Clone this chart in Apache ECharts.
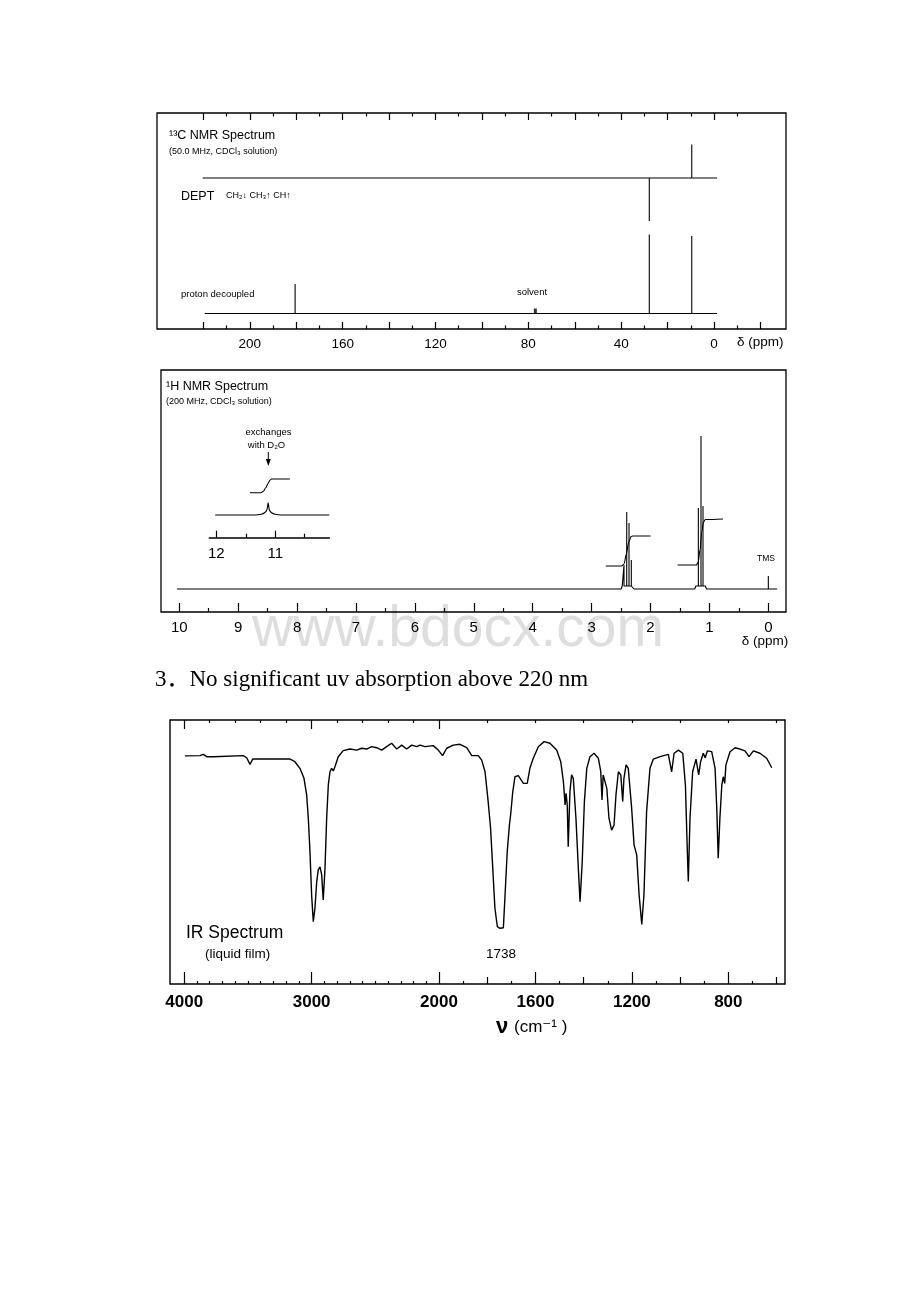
<!DOCTYPE html>
<html><head><meta charset="utf-8">
<script src="https://cdn.jsdelivr.net/npm/echarts@6/dist/echarts.min.js"></script>
<style>html,body{margin:0;padding:0;background:#fff}#c{width:920px;height:1302px}</style>
</head><body><div id="c"></div>
<script>
// ================= DATA =================
// ---- 13C NMR (delta, ppm) ----
const c13Shifts    = [180.5, 27.9, 9.6];
const c13Decoupled = [29.5, 79, 77.5];     // proton-decoupled peak heights
const c13Dept      = [0, -43, 33.5];       // DEPT: CH2 down, CH3 / CH up, C absent
const c13Solvent   = 77.0;
const c13TickMajor = [220,200,180,160,140,120,100,80,60,40,20,0,-20];
const c13TickMinor = [210,190,170,150,130,110,90,70,50,30,10,-10];
const c13TopMajor  = [220,200,180,160,140,120,100,80,60,40,20,0];
const c13TopMinor  = [210,190,170,150,130,110,90,70,50,30,10,-10];
const c13Labels    = [200,160,120,80,40,0];

// ---- 1H NMR ----
const h1Shifts  = [2.45, 2.404, 2.365, 2.326, 1.188, 1.143, 1.109, 0.0];
const h1Heights = [24, 77, 66, 29, 81, 153, 83, 13];
const h1Bumps   = [[2.50, 2.28], [1.25, 1.05]];
const h1IntQuartet = [[2.76,46],[2.49,46],[2.45,48],[2.41,58],[2.37,70],[2.33,75.5],[2.30,76],[2.0,76]];
const h1IntTriplet = [[1.54,47],[1.22,47],[1.19,50],[1.16,62],[1.13,80],[1.10,90],[1.07,92.5],[0.77,93]];
const h1TickMajor = [10,9,8,7,6,5,4,3,2,1,0];
const h1TickMinor = [9.5,8.5,7.5,6.5,5.5,4.5,3.5,2.5,1.5,0.5];
const h1Labels    = [10,9,8,7,6,5,4,3,2,1,0];
// inset (COOH, exchanges with D2O)
const insetPeak = [[12.02,22.7],[11.34,22.7],[11.24,23.5],[11.18,25],[11.14,28],[11.12,35],[11.10,28],[11.06,25],[11.0,23.5],[10.9,22.7],[10.08,22.7]];
const insetIntegral = [[11.43,45],[11.24,45],[11.20,46.5],[11.16,50],[11.12,54.5],[11.09,57.5],[11.06,58.7],[10.75,58.7]];
const insetTickMajor = [12, 11];
const insetTickMinor = [11.5, 10.5];
const insetLabels = [12, 11];

// ---- IR (wavenumber cm-1, % transmittance) ----
const irW = [3995,3877,3851,3824,3772,3537,3510,3484,3463,3353,3170,3131,3092,3060,3039,3026,3013,3000,2987,2974,
  2960,2948,2934,2921,2909,2895,2882,2869,2856,2843,2830,2817,2791,2752,2699,2646,2607,2568,2529,2489,
  2450,2411,2372,2332,2293,2254,2214,2175,2149,
  2110,2045,2006,1985,1968,1941,1913,1885,1864,1837,1823,1809,1796,1786,1777,1768,1758,1747,1733,1726,
  1717,1708,1703,1694,1685,1671,1650,1634,1623,1609,1588,1564,1540,1512,1495,1484,1477,1473,1468,1464,
  1457,1450,1443,1432,1422,1415,1406,1397,1387,1374,1357,1339,1329,1324,1319,1311,1304,1295,1284,1274,
  1266,1256,1246,1238,1233,1224,1215,1201,1191,1180,1170,1159,1150,1139,1125,1111,1083,1049,1035,1025,
  1007,989,978,970,966,959,948,934,923,915,904,896,887,869,855,848,842,835,827,821,
  815,810,793,772,752,731,714,696,669,641,620];
const irT = [86.4,86.5,87.0,86.1,86.1,86.5,85.7,83.2,85.2,85.2,85.2,84.2,81.7,77.9,71.6,62.8,50.1,33.7,23.6,28.7,
  38.8,43.2,44.4,41.3,31.8,43.8,62.8,75.4,80.4,81.7,80.7,82.3,86.1,88.4,89.0,88.6,89.3,89.0,89.9,89.5,
  88.6,89.9,91.2,89.0,90.5,89.0,90.5,89.9,90.5,
  89.9,90.3,88.6,86.5,89.3,90.5,90.8,89.5,86.5,86.5,84.8,80.4,69.1,59.0,43.8,28.7,21.7,21.1,21.3,33.7,
  50.1,60.2,64.0,72.8,78.5,78.9,76.0,76.0,81.7,85.5,89.9,91.8,91.2,88.6,84.2,76.6,67.8,72.2,67.8,52.0,
  72.8,79.2,77.9,62.8,43.8,31.2,46.3,69.1,81.7,86.1,87.4,85.5,80.4,69.7,79.2,79.8,74.1,62.8,58.3,60.2,
  71.6,80.4,79.2,69.1,77.9,83.0,81.7,66.6,52.7,48.9,33.7,22.6,33.7,65.3,81.7,85.2,86.1,87.0,80.4,87.4,
  88.6,87.4,75.4,50.1,38.8,62.8,80.4,85.2,79.2,84.2,87.4,85.7,88.3,88.0,81.7,66.6,47.6,62.8,75.4,78.5,
  76.0,83.0,88.0,89.5,89.0,88.3,86.1,88.3,87.4,85.5,81.9];
const irTickMajor = [4000,3000,2000,1600,1200,800];
const irTickMid   = [1800,1400,1000,600];
const irTickMinor = [3900,3800,3700,3600,3500,3400,3300,3200,3100,2900,2800,2700,2600,2500,2400,2300,2200,2100,
  1900,1700,1500,1300,1100,900,700];
const irTopMajor = [4000,3000,2000];
const irTopMinor = [3800,3600,3400,3200,2800,2600,2400,2200,1800,1600,1400,1200,1000,800,600];
const irLabels = [4000,3000,2000,1600,1200,800];
const irRange = [4112, 565];

// ================= LAYOUT / HELPERS =================
const SANS = "'Liberation Sans', Arial, 'DejaVu Sans', sans-serif";
// chart paper has a scale change at 2000 cm-1
const irX = w => w >= 2000 ? (4000 - w) * 0.12735 : 2000 * 0.12735 + (2000 - w) * 0.2411;

const C13_DEPT_BASE = 151, C13_DEC_BASE = 15.5, H1_BASE = 23;

function stickTrace(base, xs, hs, start, end, bumps, bumpH) {
  bumps = bumps || []; bumpH = bumpH || 0;
  const pk = xs.map((x, i) => [x, hs[i]]).filter(p => p[1] !== 0).sort((a, b) => b[0] - a[0]);
  const pts = [[start, base]];
  let open = null;
  const close = () => { if (open) { pts.push([open[1] + 0.02, base + bumpH], [open[1], base]); open = null; } };
  pk.forEach(([x, h]) => {
    const b = bumps.find(r => x <= r[0] && x >= r[1]) || null;
    if (b !== open) { close(); if (b) { pts.push([b[0], base], [b[0] - 0.02, base + bumpH]); open = b; } }
    const y0 = b ? base + bumpH : base;
    pts.push([x, y0], [x, base + h], [x, y0]);
  });
  close();
  pts.push([end, base]);
  return pts;
}

function tAxis(gridIndex, position, min, max, inverse, ticks, len, labels, labelOpt, lineOpt) {
  return {
    type: 'value', gridIndex, position, min, max, inverse,
    axisLine: lineOpt || { show: false },
    splitLine: { show: false },
    axisTick: { show: true, inside: true, length: len, customValues: ticks, lineStyle: { color: '#000', width: 1.2 } },
    axisLabel: labels ? Object.assign({ show: true, customValues: labels, color: '#000', fontFamily: SANS, fontSize: 14 }, labelOpt || {}) : { show: false }
  };
}

const lineS = (data, xi, yi, extra) => Object.assign({
  type: 'line', data, xAxisIndex: xi, yAxisIndex: yi, symbol: 'none', silent: true, animation: false,
  lineStyle: { color: '#000', width: 1.1 }
}, extra || {});

function txt(text, x, y, size, opts) {
  return { type: 'text', x, y, z: 100, silent: true,
    style: Object.assign({ text, fontSize: size, fontFamily: SANS, fill: '#000', textAlign: 'left', textVerticalAlign: 'middle', verticalAlign: 'middle' }, opts || {}) };
}

const irLabelFmt = v => { const w = irLabels.find(w => Math.abs(irX(w) - v) < 0.01); return w === undefined ? '' : String(w); };

// ================= OPTION =================
const option = {
  backgroundColor: '#fff',
  animation: false,
  grid: [
    { left: 157, top: 113, width: 629, height: 216, show: true, borderColor: '#000', borderWidth: 1.3, backgroundColor: 'transparent' },
    { left: 161, top: 370, width: 625, height: 242, show: true, borderColor: '#000', borderWidth: 1.3, backgroundColor: 'transparent' },
    { left: 209.3, top: 470, width: 120, height: 67.7, show: false },
    { left: 170, top: 720, width: 615, height: 264, show: true, borderColor: '#000', borderWidth: 1.4, backgroundColor: 'transparent' }
  ],
  xAxis: [
    tAxis(0, 'bottom', -31, 240, true, c13TickMajor, 7, c13Labels, { margin: 8, fontSize: 13.5 }),
    tAxis(0, 'bottom', -31, 240, true, c13TickMinor, 3.5),
    tAxis(0, 'top', -31, 240, true, c13TopMajor, 7),
    tAxis(0, 'top', -31, 240, true, c13TopMinor, 3.5),
    tAxis(1, 'bottom', -0.30, 10.31, true, h1TickMajor, 9, h1Labels, { margin: 8, fontSize: 15 }),
    tAxis(1, 'bottom', -0.30, 10.31, true, h1TickMinor, 4),
    tAxis(2, 'bottom', 10.08, 12.12, true, insetTickMajor, 7, insetLabels, { margin: 9, fontSize: 15 }, { show: true, lineStyle: { color: '#000', width: 1.5 } }),
    tAxis(2, 'bottom', 10.08, 12.12, true, insetTickMinor, 4),
    tAxis(3, 'bottom', irX(irRange[0]), irX(irRange[1]), false, irTickMajor.map(irX), 12, irLabels.map(irX), { margin: 10, fontSize: 17, fontWeight: 'bold', formatter: irLabelFmt }),
    tAxis(3, 'bottom', irX(irRange[0]), irX(irRange[1]), false, irTickMid.map(irX), 7),
    tAxis(3, 'bottom', irX(irRange[0]), irX(irRange[1]), false, irTickMinor.map(irX), 3),
    tAxis(3, 'top', irX(irRange[0]), irX(irRange[1]), false, irTopMajor.map(irX), 9),
    tAxis(3, 'top', irX(irRange[0]), irX(irRange[1]), false, irTopMinor.map(irX), 3)
  ],
  yAxis: [
    { type: 'value', gridIndex: 0, min: 0, max: 216, show: false },
    { type: 'value', gridIndex: 1, min: 0, max: 242, show: false },
    { type: 'value', gridIndex: 2, min: 0, max: 67.7, show: false },
    { type: 'value', gridIndex: 3, min: 0, max: 100, show: false }
  ],
  series: [
    lineS(stickTrace(C13_DEPT_BASE, c13Shifts, c13Dept, 220.3, -1.3), 0, 0),
    lineS(stickTrace(C13_DEC_BASE, c13Shifts, c13Decoupled, 219.4, -1.3), 0, 0),
    { type: 'scatter', xAxisIndex: 0, yAxisIndex: 0, symbol: 'rect', symbolSize: [3, 5], silent: true, animation: false,
      itemStyle: { color: '#000' }, data: [[c13Solvent, C13_DEC_BASE + 2.5]] },
    lineS(stickTrace(H1_BASE, h1Shifts, h1Heights, 10.04, -0.15, h1Bumps, 3), 4, 1),
    lineS(h1IntQuartet, 4, 1, { smooth: 0.3, smoothMonotone: 'x' }),
    lineS(h1IntTriplet, 4, 1, { smooth: 0.3, smoothMonotone: 'x' }),
    lineS(insetPeak, 6, 2, { smooth: 0.2 }),
    lineS(insetIntegral, 6, 2, { smooth: 0.3, smoothMonotone: 'x' }),
    lineS(irW.map((w, i) => [irX(w), irT[i]]), 8, 3, { lineStyle: { color: '#000', width: 1.4 } })
  ],
  graphic: [
    { type: 'text', x: 458, y: 630, z: -10, silent: true,
      style: { text: 'www.bdocx.com', fontSize: 57, fontFamily: SANS, fill: '#dedede', textAlign: 'center', textVerticalAlign: 'middle', verticalAlign: 'middle' } },
    // 13C
    txt('¹³C NMR Spectrum', 169, 136, 12.5),
    txt('(50.0 MHz, CDCl₃ solution)', 169, 152, 9),
    txt('DEPT', 181, 196.5, 12.5),
    txt('CH₂↓ CH₃↑ CH↑', 226, 196, 9),
    txt('proton decoupled', 181, 294, 9.5),
    txt('solvent', 532, 292, 9.5, { textAlign: 'center' }),
    txt('δ (ppm)', 737, 342, 13.5),
    // 1H
    txt('¹H NMR Spectrum', 166, 387, 12.5),
    txt('(200 MHz, CDCl₃ solution)', 166, 401.5, 9),
    txt('exchanges', 268.5, 432, 9.5, { textAlign: 'center' }),
    txt('with D₂O', 266.5, 445.5, 9.5, { textAlign: 'center' }),
    { type: 'line', z: 100, silent: true, shape: { x1: 268.3, y1: 452, x2: 268.3, y2: 461 }, style: { stroke: '#000', lineWidth: 1 } },
    { type: 'polygon', z: 100, silent: true, shape: { points: [[265.8, 459], [270.8, 459], [268.3, 466]] }, style: { fill: '#000' } },
    txt('TMS', 766, 559, 8.5, { textAlign: 'center' }),
    txt('δ (ppm)', 765, 641, 13.5, { textAlign: 'center' }),
    // uv statement
    txt('3．No significant uv absorption above 220 nm', 155, 680, 23, { fontFamily: "'Liberation Serif', 'Times New Roman', 'Noto Sans CJK SC', serif" }),
    // IR
    txt('IR Spectrum', 186, 933, 17.5),
    txt('(liquid film)', 205, 954, 13.5),
    txt('1738', 501, 954, 13.5, { textAlign: 'center' }),
    txt('ν', 502, 1027, 22, { textAlign: 'center', fontWeight: 'bold' }),
    txt('(cm⁻¹ )', 514, 1027, 17)
  ]
};

const chart = echarts.init(document.getElementById('c'), null, { renderer: 'canvas', width: 920, height: 1302 });
chart.setOption(option);
</script>
</body></html>
